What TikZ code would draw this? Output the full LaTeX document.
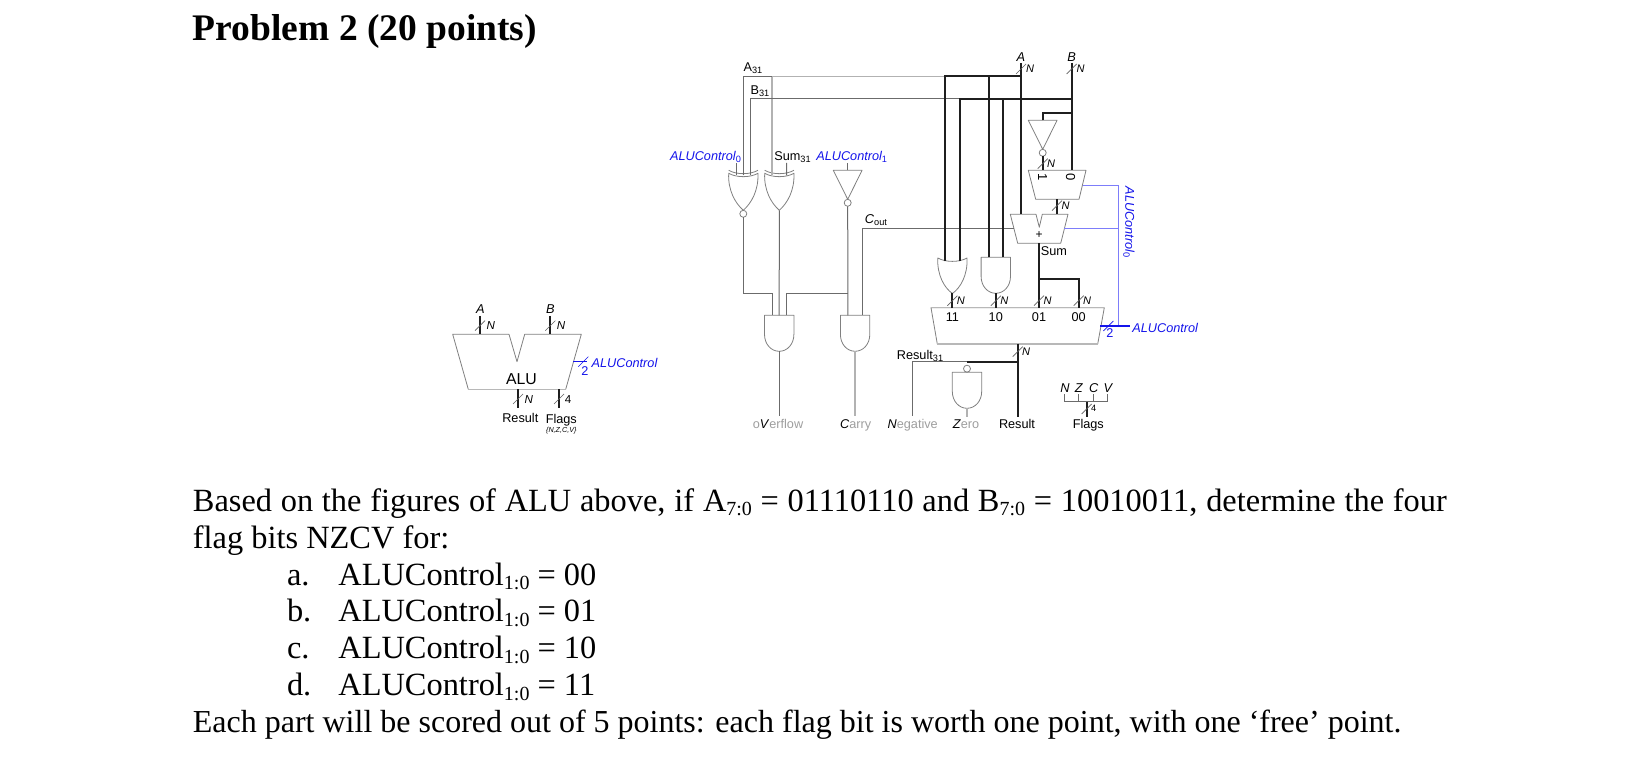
\documentclass[tikz,border=0pt]{standalone}
\usepackage{fontspec}
\setmainfont{Liberation Serif}
\newfontfamily\diagfont{Liberation Sans}
\usetikzlibrary{calc}
\definecolor{ctlblue}{RGB}{20,20,235}
\definecolor{ctlwire}{RGB}{125,125,250}
\definecolor{fadetxt}{gray}{0.62}
\newcommand{\dsub}[1]{\raisebox{-1pt}{\upshape\fontsize{4.6}{5}\selectfont #1}}
\newcommand{\bsub}[1]{\raisebox{-2pt}{\fontsize{10}{11}\selectfont #1}}
\newcommand{\fade}[1]{\textcolor{fadetxt}{#1}}
\tikzset{
  x=0.5pt,y=-0.5pt,
  wire/.style={draw=black!58,line width=0.5pt},
  lightwire/.style={draw=black!30,line width=0.7pt},
  bus/.style={draw=black!88,line width=1pt},
  ctl/.style={draw=ctlwire,line width=0.5pt},
  ctlbus/.style={draw=ctlblue,line width=0.8pt},
  gateline/.style={draw=black!50,line width=0.4pt,line join=round},
  edgeline/.style={draw=black!28,line width=0.75pt},
  dplain/.style={font=\diagfont\fontsize{6.35}{7}\selectfont,inner sep=0pt},
  dtext/.style={dplain,anchor=base,yshift=-2.25pt},
  blabel/.style={dtext,text=ctlblue,font=\diagfont\itshape\fontsize{6.35}{7}\selectfont},
  wlabel/.style={dplain,anchor=base,yshift=-1.95pt,font=\diagfont\itshape\fontsize{5.5}{6}\selectfont},
  wlabelbig/.style={dplain,anchor=base,yshift=-2.05pt,font=\diagfont\itshape\fontsize{5.8}{6}\selectfont},
  wnum/.style={dplain,anchor=base,yshift=-1.5pt,font=\diagfont\fontsize{4.6}{6}\selectfont},
  wnumbig/.style={dplain,anchor=base,yshift=-2.05pt,font=\diagfont\fontsize{5.8}{6}\selectfont},
  sigtext/.style={dtext,font=\diagfont\itshape\fontsize{6.4}{7}\selectfont},
  bodytext/.style={font=\rmfamily\fontsize{16.2}{18}\selectfont,inner sep=0pt,anchor=base west},
  andgate/.pic={
    \draw[gateline] (-14.7,0) -- (14.7,0) -- (14.7,19) .. controls (14.7,29) and (8,36) .. (0,36)
      .. controls (-8,36) and (-14.7,29) .. (-14.7,19) -- cycle;
    \coordinate (-a) at (-7.2,0); \coordinate (-b) at (7.2,0); \coordinate (-c) at (0,0); \coordinate (-out) at (0,36);
  },
  orgate/.pic={
    \draw[gateline] (-14.6,0) .. controls (-7,4.5) and (7,4.5) .. (14.6,0)
      .. controls (15.5,17) and (8,30) .. (0,35.5) .. controls (-8,30) and (-15.5,17) .. (-14.6,0) -- cycle;
    \coordinate (-a) at (-7.2,3.5); \coordinate (-b) at (7.2,3.5); \coordinate (-c) at (0,3.5); \coordinate (-out) at (0,35.5);
  },
  xorgate/.pic={
    \draw[gateline] (-14.6,0) .. controls (-7,4.5) and (7,4.5) .. (14.6,0)
      .. controls (15.5,17) and (8,30) .. (0,37) .. controls (-8,30) and (-15.5,17) .. (-14.6,0) -- cycle;
    \draw[gateline] (-14.6,-3) .. controls (-7,1.5) and (7,1.5) .. (14.6,-3);
    \coordinate (-a) at (-7.2,2); \coordinate (-b) at (7.2,2); \coordinate (-c) at (0,2); \coordinate (-out) at (0,37);
  },
  invgate/.pic={
    \draw[gateline] (-14.4,0) -- (14.4,0) -- (0,29) -- cycle;
    \draw[gateline] (0,32.5) circle[radius=3.5];
    \coordinate (-in) at (0,0); \coordinate (-out) at (0,36);
  },
}
\newcommand{\slashmark}[6]{% style, name, x, y, label, label offset
  \draw[draw=black!62,line width=0.35pt] (#3-5,#4+5) -- (#3+5,#4-5);
  \node[#1] (#2) at (#3+#6,#4) {#5};
}
\begin{document}
\begin{tikzpicture}
\useasboundingbox (0,0) rectangle (1640,764);
\fill[white] (0,0) rectangle (1640,764);

% ---------- text of the problem
\node[inner sep=0pt,anchor=base west,font=\rmfamily\bfseries\fontsize{18.75}{22}\selectfont] (title) at (192.5,40.5) {Problem 2 (20 points)};
\node[bodytext] (l1) at (192.5,512) {\makebox[627pt][s]{Based on the figures of ALU above, if A\bsub{7:0} = 01110110 and B\bsub{7:0} = 10010011, determine the four}};
\node[bodytext] (l2) at (192.5,548.5) {flag bits NZCV for:};
\node[bodytext] (la) at (286.6,585.5) {a.};
\node[bodytext] (ta) at (338,585.5) {ALUControl\bsub{1:0} = 00};
\node[bodytext] (lb) at (286.6,622) {b.};
\node[bodytext] (tb) at (338,622) {ALUControl\bsub{1:0} = 01};
\node[bodytext] (lc) at (286.6,659) {c.};
\node[bodytext] (tc) at (338,659) {ALUControl\bsub{1:0} = 10};
\node[bodytext] (ld) at (286.6,696) {d.};
\node[bodytext] (td) at (338,696) {ALUControl\bsub{1:0} = 11};
\node[bodytext,font=\rmfamily\fontsize{16}{18}\selectfont] (l3) at (192.5,733) {Each part will be scored out of 5 points: each flag bit is worth one point, with one ‘free’ point.};

% ---------- small ALU symbol
\draw[gateline] (468.3,389.3) -- (452.7,334.3) -- (509,334.3) -- (517,361.7) -- (524.7,334.3) -- (581.3,334.3) -- (565.7,389.3);
\draw[edgeline] (468.3,389.3) -- (565.7,389.3);
\coordinate (saA) at (480,316); \coordinate (saAin) at (480,334.3);
\coordinate (saB) at (550.3,316); \coordinate (saBin) at (550.3,334.3);
\coordinate (saR) at (518,389.3); \coordinate (saRe) at (518,408.3);
\coordinate (saF) at (559,389.3); \coordinate (saFe) at (559,408.3);
\coordinate (saC) at (573.3,361.7); \coordinate (saCe) at (587,361.7);
\draw[bus] (saA) -- (saAin); \draw[bus] (saB) -- (saBin);
\draw[bus] (saR) -- (saRe); \draw[bus] (saF) -- (saFe);
\draw[ctlbus] (saC) -- (saCe);
\slashmark{wlabelbig}{saNa}{480}{325.7}{N}{10.7}
\slashmark{wlabelbig}{saNb}{550.3}{325.7}{N}{10.7}
\slashmark{wlabelbig}{saNr}{518}{399}{N}{10.7}
\slashmark{wnumbig}{saN4}{559}{399}{4}{9}
\draw[ctlbus,line width=0.35pt] (578.3,366.7) -- (588.3,356.7);
\node[sigtext] (saAl) at (480.5,309) {A};
\node[sigtext] (saBl) at (550.5,309) {B};
\node[dtext,font=\diagfont\fontsize{7.9}{9}\selectfont] (saName) at (521.5,380) {ALU};
\node[dtext] (saRl) at (520.3,418) {Result};
\node[dtext] (saFl) at (561.3,419) {Flags};
\node[dtext,font=\diagfont\itshape\fontsize{3.6}{4}\selectfont,yshift=1pt] (saFb) at (561.3,430.3) {\{N,Z,C,V\}};
\node[blabel,anchor=base west] (saCl) at (591.3,363) {ALUControl};
\node[dtext,text=ctlblue] (sa2) at (585,370.7) {2};

% ---------- gates
\pic (xn) at (743.3,173.3) {xorgate};
\pic (xr) at (779.3,173.3) {xorgate};
\draw[gateline] (743.3,213.8) circle[radius=3.5];
\coordinate (xnout) at (743.3,217.3);
\pic (inv1) at (847.7,170.3) {invgate};
\pic (av) at (779.2,315.3) {andgate};
\pic (ac) at (855.1,315.3) {andgate};
\pic (inv2) at (1042.7,120.3) {invgate};
\pic (org) at (952.4,258) {orgate};
\pic (and10) at (995.8,257.3) {andgate};
\pic (nz) at (967,372.3) {andgate};
\draw[gateline] (967,368.7) circle[radius=3.5];

% ---------- operand mux, adder, result mux
\draw[gateline] (1028.3,170.3) -- (1086,170.3) -- (1079,199.3) -- (1035.7,199.3) -- cycle;
\draw[gateline] (1010.3,214.3) -- (1036,214.3) -- (1039.3,227.3) -- (1042.3,214.3) -- (1068,214.3) -- (1060.7,243.3) -- (1017.7,243.3) -- cycle;
\draw[gateline] (931,307.7) -- (1104.3,307.7) -- (1097.7,344) -- (937.3,344) -- cycle;
\draw[edgeline] (931,307.7) -- (1104.3,307.7);
\draw[edgeline] (937.3,344) -- (1097.7,344);
\coordinate (m1) at (1042.7,170.3); \coordinate (m0) at (1071.7,170.3); \coordinate (mout) at (1057,199.3); \coordinate (mctl) at (1082.7,185.3);
\coordinate (addA) at (1021,214.3); \coordinate (addB) at (1057,214.3); \coordinate (addC) at (1014.4,228.3); \coordinate (addCtl) at (1064.2,228.3); \coordinate (addS) at (1039,243.3);
\coordinate (r11) at (952.4,307.7); \coordinate (r10) at (995.8,307.7); \coordinate (r01) at (1039,307.7); \coordinate (r00) at (1078.7,307.7);
\coordinate (rout) at (1017.7,344); \coordinate (rctl) at (1100.3,326);

% ---------- named wire points
\coordinate (Atop) at (1021,63); \coordinate (Btop) at (1071.7,63);
\coordinate (Ay) at (1021,76.5); \coordinate (By) at (1071.7,98.7);
\coordinate (Bv) at (1071.7,112.7);
\coordinate (mergey) at (0,293.3);
\coordinate (sumy) at (1039,279);
\coordinate (resy) at (1017.7,362);
\coordinate (resE) at (1017.7,416.7);
\coordinate (negE) at (912.7,416);
\coordinate (zeroE) at (967,416.7);
\coordinate (ovE) at (779.2,416);
\coordinate (caE) at (855.1,416);
\coordinate (ctlE) at (1130,326);
\coordinate (ctlx) at (1118.7,326);
\coordinate (c0) at (736.1,163);
\coordinate (sumt) at (786.5,163);
\coordinate (c1) at (847.7,163);

% ---------- grey control and status wires
\draw[lightwire] (xr-a) -- (xr-a |- Ay);
\draw[lightwire] (xr-a |- Ay) -- (org-a |- Ay);
\draw[wire] (xn-c) |- (xr-a |- Ay);
\draw[wire] (xn-b) |- (org-b |- By);
\draw[wire] (xn-a) -- (c0);
\draw[wire] (xr-b) -- (sumt);
\draw[wire] (inv1-in) -- (c1);
\draw[wire] (xnout) |- ($(av-a |- mergey)$) -- (av-a);
\draw[wire] (xr-out) -- (av-c);
\draw[wire] (inv1-out) -- (ac-a);
\draw[wire] (av-b) |- (ac-a |- mergey);
\draw[wire] (addC) -| (ac-b);
\draw[wire] (av-out) -- (ovE);
\draw[lightwire] (ac-out) -- (caE);
\draw[wire] (nz-c |- resy) -| (negE);
\draw[lightwire] (nz-out) -- (zeroE);

% ---------- blue control wires
\draw[ctl] (mctl) -| (ctlx);
\draw[ctl] (addCtl) -- (ctlx |- addCtl);
\draw[ctlbus] (rctl) -- (ctlE);

% ---------- black buses
\draw[bus] (Atop) -- (addA);
\draw[bus] (Btop) -- (m0);
\draw[bus] (org-a) |- (Ay);
\draw[bus] (and10-a) -- (and10-a |- Ay);
\draw[bus] (org-b) |- (By);
\draw[bus] (and10-b) -- (and10-b |- By);
\draw[bus] (inv2-in) |- (Bv);
\draw[bus] (inv2-out) -- (m1);
\draw[bus] (mout) -- (addB);
\draw[bus] (addS) -- (r01);
\draw[bus] (sumy) -| (r00);
\draw[bus] (org-out) -- (r11);
\draw[bus] (and10-out) -- (r10);
\draw[bus] (rout) -- (resE);
\draw[bus] (resy) -- (nz-c |- resy);

% ---------- bus width marks
\slashmark{wlabel}{wA}{1021}{69}{N}{9}
\slashmark{wlabel}{wB}{1071.7}{69}{N}{9}
\slashmark{wlabel}{wI}{1042.7}{163.7}{N}{8.5}
\slashmark{wlabel}{wM}{1057}{205.7}{N}{8.5}
\slashmark{wlabel}{w11}{952.4}{300.7}{N}{8.5}
\slashmark{wlabel}{w10}{995.8}{300.7}{N}{8.5}
\slashmark{wlabel}{w01}{1039}{300.7}{N}{8.5}
\slashmark{wlabel}{w00}{1078.7}{300.7}{N}{8.5}
\slashmark{wlabel}{wR}{1017.7}{351.7}{N}{8.5}
\draw[ctlbus,line width=0.35pt] (1103.3,331) -- (1113.3,321);

% ---------- flags bundle
\coordinate (fN) at (1064.3,394.3); \coordinate (fZ) at (1078.7,394.3); \coordinate (fC) at (1093.3,394.3); \coordinate (fV) at (1107.7,394.3);
\coordinate (fStem) at (1086.7,401.7); \coordinate (fEnd) at (1086.7,416.7);
\draw[wire] (fN) |- (fV |- fStem) -- (fV);
\draw[wire] (fZ) -- (fZ |- fStem);
\draw[wire] (fC) -- (fC |- fStem);
\draw[bus] (fStem) -- (fEnd);
\slashmark{wnum}{w4}{1086.7}{409}{4}{7}

% ---------- labels
\node[dtext] (lA31) at (753,67.3) {A\dsub{31}};
\node[dtext] (lB31) at (760,89.7) {B\dsub{31}};
\node[blabel] (lc0) at (705.5,156) {ALUControl\dsub{0}};
\node[dtext] (lS31) at (792.5,156) {Sum\dsub{31}};
\node[blabel] (lc1) at (851.7,156) {ALUControl\dsub{1}};
\node[dtext,font=\diagfont\itshape\fontsize{6.4}{7}\selectfont] (lCout) at (876,219) {C\dsub{out}};
\node[sigtext] (lA) at (1021,57) {A};
\node[sigtext] (lB) at (1071.7,57) {B};
\node[dplain,font=\diagfont\fontsize{6.5}{7}\selectfont,rotate=-90] (lm1) at (1042.7,176.7) {1};
\node[dplain,font=\diagfont\fontsize{6.5}{7}\selectfont,rotate=-90] (lm0) at (1070.7,176.7) {0};
\node[dplain,font=\diagfont\fontsize{6}{7}\selectfont] (lplus) at (1039,235) {+};
\node[dplain,text=ctlblue,font=\diagfont\itshape\fontsize{6.35}{7}\selectfont,rotate=-90] (lc0v) at (1129,222) {ALUControl\dsub{0}};
\node[dtext] (lSum) at (1054,251) {Sum};
\node[dtext] (l11) at (952.4,316.7) {11};
\node[dtext] (l10) at (995.8,316.7) {10};
\node[dtext] (l01) at (1039,316.7) {01};
\node[dtext] (l00) at (1078.7,316.7) {00};
\node[dtext,text=ctlblue] (l2w) at (1110,332.7) {2};
\node[blabel,anchor=base west] (lctl) at (1132,327.6) {ALUControl};
\node[dtext] (lR31) at (920,355) {Result\dsub{31}};
\node[dtext] (lov) at (778,424) {\fade{o}\textit{V}\fade{erflow}};
\node[dtext] (lca) at (855.7,424) {\textit{C}\fade{arry}};
\node[dtext] (lne) at (912.7,424) {\textit{N}\fade{egative}};
\node[dtext] (lze) at (966,424) {\textit{Z}\fade{ero}};
\node[dtext] (lre) at (1017,424) {Result};
\node[dtext] (lfl) at (1088.3,424) {Flags};
\node[sigtext] (fNl) at (1065,388.3) {N};
\node[sigtext] (fZl) at (1078.7,388.3) {Z};
\node[sigtext] (fCl) at (1093.7,388.3) {C};
\node[sigtext] (fVl) at (1108,388.3) {V};
\end{tikzpicture}
\end{document}
